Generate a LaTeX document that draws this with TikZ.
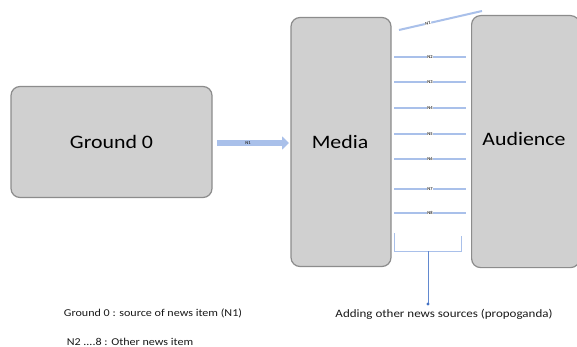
\documentclass[tikz,border=0pt]{standalone}
\usepackage{fontspec}
\setmainfont{Carlito}
\usetikzlibrary{arrows.meta,calc}
\definecolor{boxfill}{HTML}{D0D0D0}
\definecolor{boxline}{HTML}{8C8C8C}
\definecolor{lnblue}{HTML}{A9C0EA}
\definecolor{dotblue}{HTML}{4472C4}
\tikzset{
  bigbox/.style={draw=boxline, fill=boxfill, line width=1.2pt, rounded corners=9pt, inner sep=0pt},
  biglbl/.style={font=\fontsize{19}{22}\selectfont, text=black, xscale=1.15, inner sep=0pt},
  newsline/.style={draw=lnblue, line width=1.5pt},
  tinylbl/.style={font=\fontsize{4.5}{5}\selectfont\bfseries, fill=white, inner sep=0.6pt, text=black!80},
  legend/.style={font=\fontsize{10.5}{12}\selectfont, text=black!90, inner sep=0pt, xscale=1.15}
}
\begin{document}
\begin{tikzpicture}[x=1pt,y=-1pt]
\useasboundingbox (0,0) rectangle (577,347);
\fill[white] (0,0) rectangle (577,347);
% boxes
\node[bigbox, minimum width=201pt, minimum height=111pt] (g0) at (111.5,142) {};
\node[biglbl] (g0l) at (g0.center) {Ground 0};
\node[bigbox, minimum width=100pt, minimum height=249pt] (media) at (341,142) {};
\node[biglbl] (medl) at (340,142) {Media};
\node[bigbox, minimum width=108pt, minimum height=252pt, anchor=north west] (aud) at (471,15) {};
\node[biglbl] (audl) at (524,139) {Audience};
% N1 arrow from ground 0 to media
\coordinate (a1s) at (217,143);
\coordinate (a1e) at (289,143);
\draw[draw=lnblue, line width=6pt, -{Triangle[length=7pt,width=13pt]}] (a1s) -- (a1e);
\node[tinylbl, fill=none] (n1a) at (248,143) {N1};
% top sloped line N1
\coordinate (t1) at (399,30);
\coordinate (t2) at (482,11);
\draw[draw=lnblue, line width=2pt] (t1) -- (t2);
\node[tinylbl, rotate=12] (n1b) at (428,23.5) {N1};
% horizontal lines N2..N8
\foreach \y/\lbl in {57/N2,82/N3,108/N4,134/N5,159/N6,189/N7,213/N8}{
  \coordinate (l\lbl) at (394,\y);
  \coordinate (r\lbl) at (466,\y);
  \draw[newsline] (l\lbl) -- (r\lbl);
  \node[tinylbl] (t\lbl) at (430,\y) {\lbl};
}
% bracket
\coordinate (b1) at (394,233);
\coordinate (b2) at (394,251);
\coordinate (b3) at (461,251);
\coordinate (b4) at (461,236);
\coordinate (bm) at (428,251);
\draw[draw=lnblue, line width=0.9pt] (b1) -- (b2) -- (b3) -- (b4);
\node[legend, font=\fontsize{11.3}{13}\selectfont] (add) at (444,314) {Adding other news sources (propoganda)};
\coordinate (dot) at (428,304);
\draw[draw=dotblue!70!lnblue, line width=0.8pt] (bm) -- (dot);
\fill[dotblue] (dot) circle (1.6pt);
% legend
\node[legend] (leg1) at (153,313) {Ground 0 : source of news item (N1)};
\node[legend] (leg2) at (130,341.5) {N2 ....8 : Other news item};
\end{tikzpicture}
\end{document}
